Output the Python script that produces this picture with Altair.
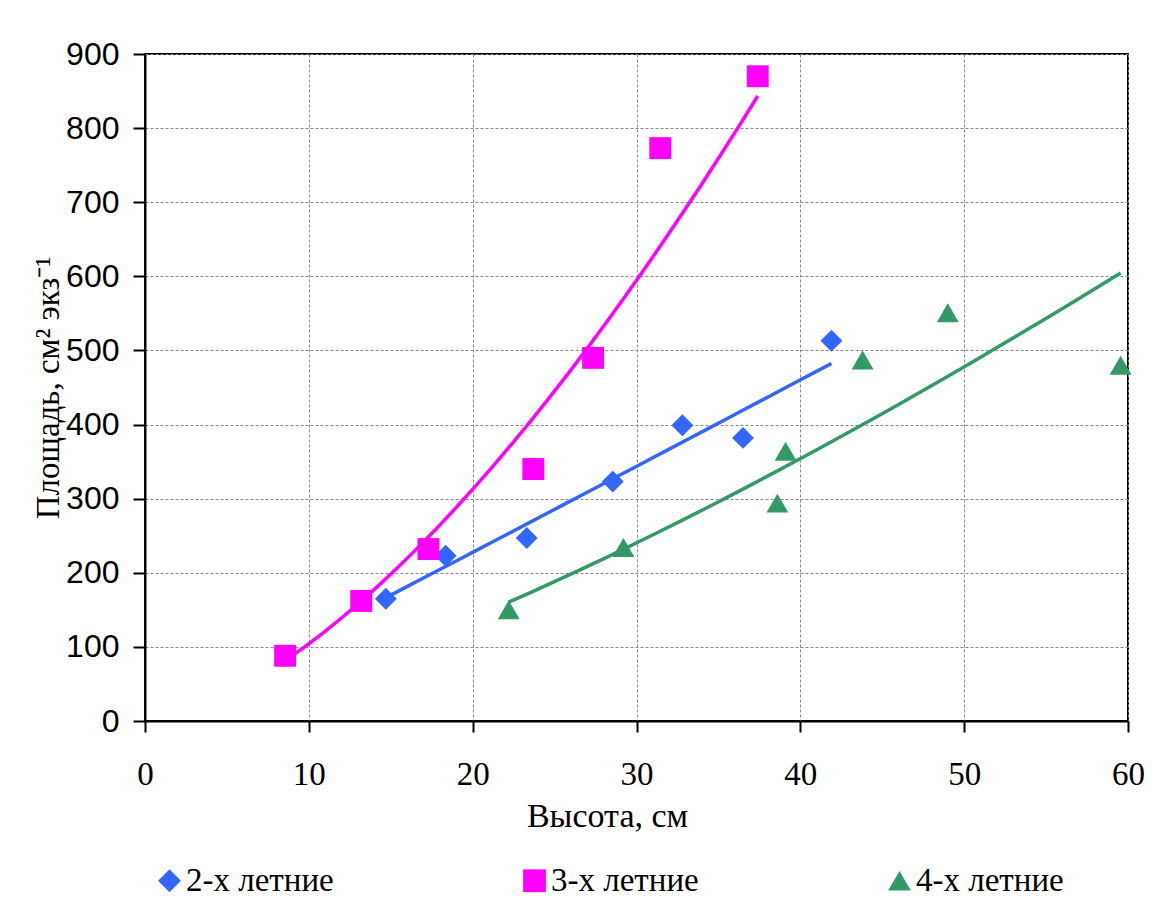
import altair as alt
import pandas as pd

# Data
x2 = [14.7, 18.35, 23.3, 28.55, 32.8, 36.5, 41.9]
y2 = [165, 223, 247, 323, 399, 382, 513]
x3 = [8.55, 13.2, 17.3, 23.7, 27.35, 31.45, 37.4]
y3 = [88, 162, 232, 340, 490, 773, 870]
x4 = [22.2, 29.2, 38.6, 39.1, 43.8, 49.0, 59.55]
y4 = [150, 234, 294, 364, 487, 551, 480]

series = ["2-х летние", "3-х летние", "4-х летние"]
colors = ["#3366FF", "#FF00FF", "#339966"]
shapes = ["diamond", "square", "triangle-up"]

rows = []
for name, xs, ys in zip(series, [x2, x3, x4], [y2, y3, y4]):
    for a, b in zip(xs, ys):
        rows.append({"series": name, "h": a, "area": b})
df = pd.DataFrame(rows)

SERIF = "Liberation Serif"
SANS = "Liberation Sans"

xscale = alt.Scale(domain=[0, 60], nice=False, zero=False)
yscale = alt.Scale(domain=[0, 900], nice=False, zero=False)

xaxis = alt.Axis(
    title="Высота, см", values=[0, 10, 20, 30, 40, 50, 60], format="d",
    labelFont=SERIF, labelFontSize=33, labelColor="black", labelPadding=26,
    labelFlush=False,
    titleFont=SERIF, titleFontSize=34, titleFontWeight="normal", titleColor="black",
    titlePadding=8, titleX=462, tickSize=11, tickColor="black", tickWidth=2,
    domainColor="black", domainWidth=2,
    grid=True, gridColor="#888888", gridDash=[3, 2], gridWidth=1,
)
yaxis = alt.Axis(
    title="Площадь, см² экз⁻¹", values=list(range(0, 901, 100)), format="d",
    labelFont=SANS, labelFontSize=32, labelColor="black", labelPadding=14,
    titleFont=SERIF, titleFontSize=33, titleFontWeight="normal", titleColor="black",
    titlePadding=0, tickSize=12, tickColor="black", tickWidth=2,
    domainColor="black", domainWidth=2,
    grid=True, gridColor="#888888", gridDash=[3, 2], gridWidth=1,
)

base = alt.Chart(df)

lines = base.transform_calculate(grp="datum.series").transform_regression(
    "h", "area", groupby=["grp"], method="pow"
).mark_line(strokeWidth=3.5).encode(
    x=alt.X("h:Q", scale=xscale, axis=xaxis),
    y=alt.Y("area:Q", scale=yscale, axis=yaxis),
    stroke=alt.Stroke("grp:N", scale=alt.Scale(range=colors), legend=None),
)

legend = alt.Legend(title=None, orient="none", direction="horizontal",
                    legendX=8, legendY=810, columns=3)

points = base.mark_point(filled=True, size=480, opacity=1, strokeWidth=0).encode(
    x=alt.X("h:Q", scale=xscale, axis=xaxis),
    y=alt.Y("area:Q", scale=yscale, axis=yaxis),
    color=alt.Color("series:N", scale=alt.Scale(domain=series, range=colors), legend=legend),
    shape=alt.Shape("series:N", scale=alt.Scale(domain=series, range=shapes), legend=legend),
)

chart = alt.layer(lines, points).properties(
    width=983, height=667,
    padding={"left": 137, "top": 46, "right": 17, "bottom": 180},
    autosize=alt.AutoSizeParams(type="none"),
    background="white",
).configure_view(
    stroke="black", strokeWidth=2
).configure_legend(
    labelFont=SERIF, labelFontSize=33, labelColor="black", labelOffset=0,
    symbolSize=520, symbolStrokeWidth=0, labelLimit=400, columnPadding=184,
)

chart.save("out.html", embed_options={"renderer": "svg", "actions": False})
